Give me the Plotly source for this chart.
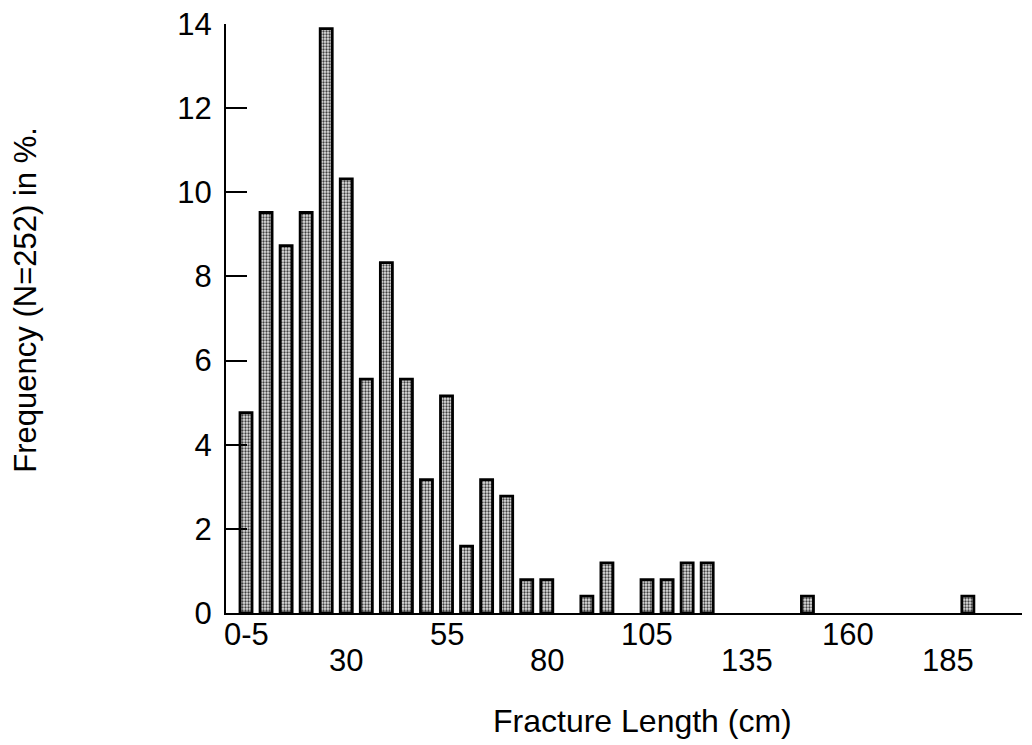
import plotly.graph_objects as go

# Data: 5-cm bins of fracture length, frequency in % (N=252); None = empty bin
bin_lower = list(range(0, 185, 5))  # 0-5 ... 180-185
freq_pct = [4.76, 9.52, 8.73, 9.52, 13.89, 10.32, 5.56, 8.33, 5.56, 3.17,
            5.16, 1.59, 3.17, 2.78, 0.79, 0.79, None, 0.40, 1.19, None,
            0.79, 0.79, 1.19, 1.19, None, None, None, None, 0.40, None,
            None, None, None, None, None, None, 0.40]
bin_centers = [b + 2.5 for b in bin_lower]

xtick_text = ["0-5", "30", "55", "80", "105", "135", "160", "185"]
xtick_pos = [2.5, 27.5, 52.5, 77.5, 102.5, 127.5, 152.5, 177.5]
ytick_vals = [0, 2, 4, 6, 8, 10, 12, 14]

FONT = "Liberation Sans, Arial, Helvetica, sans-serif"

fig = go.Figure()
fig.add_trace(go.Bar(
    x=bin_centers,
    y=freq_pct,
    width=3.0,
    marker=dict(
        color="#b8b8b8",
        line=dict(color="black", width=2.8),
        pattern=dict(shape=".", size=3, solidity=0.45,
                     fgcolor="#404040", bgcolor="#e2e2e2", fillmode="replace"),
    ),
    hoverinfo="x+y",
))

# page body has an 8px margin: figure is 8px smaller and margins shifted accordingly
fig.update_layout(
    width=1024, height=737,
    margin=dict(l=218, r=10, t=16, b=132),
    plot_bgcolor="white", paper_bgcolor="white",
    showlegend=False,
    font=dict(family=FONT, size=31, color="black"),
    xaxis=dict(range=[-2.49, 196], showline=True, linecolor="black", linewidth=2,
               showticklabels=False, ticks="", showgrid=False, zeroline=False,
               automargin=False),
    yaxis=dict(range=[0, 14], tickvals=ytick_vals, ticks="inside", ticklen=21,
               tickwidth=2, tickcolor="black", showline=True, linecolor="black",
               linewidth=2, showgrid=False, zeroline=False, automargin=False,
               tickfont=dict(family=FONT, size=31, color="black"),
               ticklabelstandoff=6, ticklabeloverflow="allow"),
)

annotations = []
for i, (t, p) in enumerate(zip(xtick_text, xtick_pos)):
    annotations.append(dict(
        x=p, xref="x", y=0, yref="paper", text=t, showarrow=False,
        xanchor="center", yanchor="middle",
        yshift=-21 if i % 2 == 0 else -47,
        font=dict(family=FONT, size=31, color="black"),
    ))
annotations.append(dict(
    x=0.523, xref="paper", y=-0.183, yref="paper", text="Fracture Length (cm)",
    showarrow=False, xanchor="center", yanchor="middle",
    font=dict(family=FONT, size=32, color="black"),
))
annotations.append(dict(
    x=-0.252, xref="paper", y=0.531, yref="paper", text="Frequency (N=252) in %.",
    showarrow=False, xanchor="center", yanchor="middle", textangle=-90,
    font=dict(family=FONT, size=31, color="black"),
))
fig.update_layout(annotations=annotations)

fig.write_html("out.html")
